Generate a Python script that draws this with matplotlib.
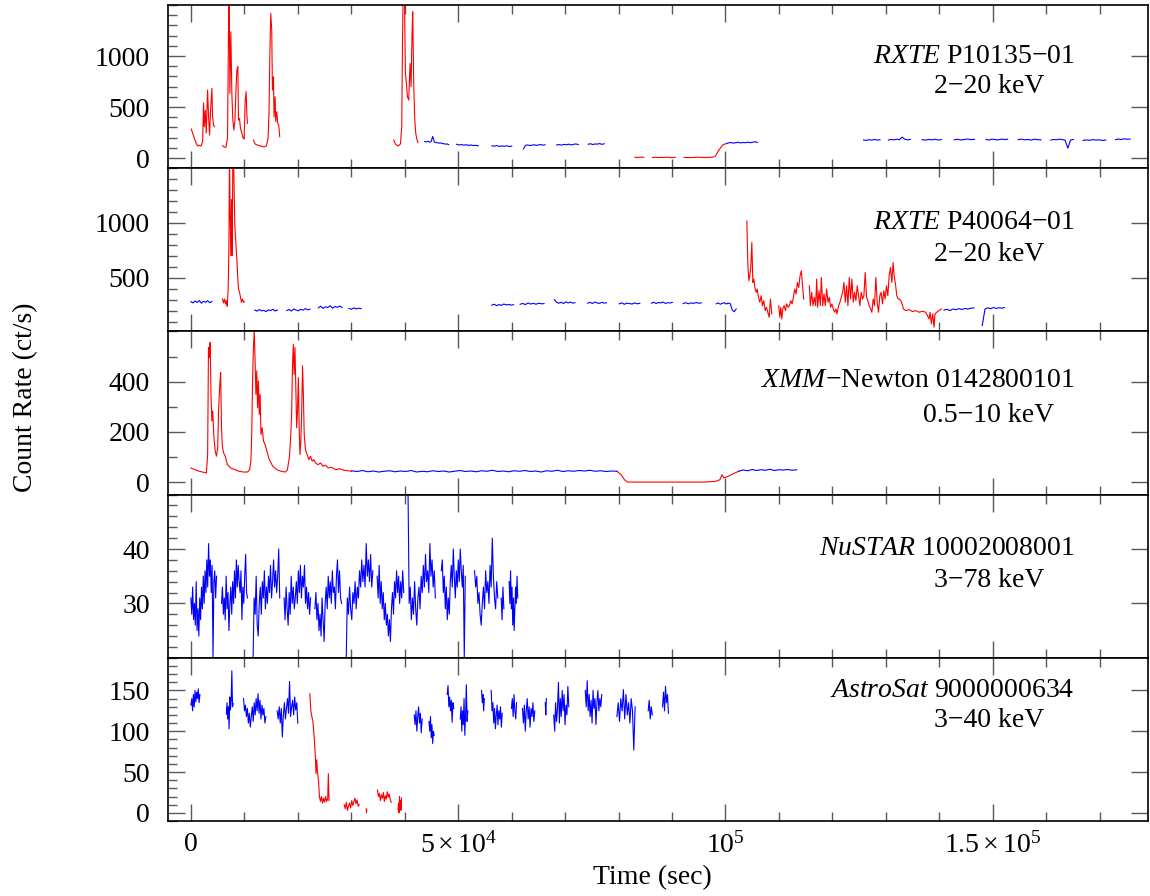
import numpy as np
import matplotlib
matplotlib.use('Agg')
import matplotlib.pyplot as plt
from matplotlib.ticker import MultipleLocator, FixedLocator, FixedFormatter

plt.rcParams['font.family'] = ['Liberation Serif', 'DejaVu Serif']
plt.rcParams['mathtext.fontset'] = 'custom'
plt.rcParams['mathtext.rm'] = 'Liberation Serif'
plt.rcParams['mathtext.it'] = 'Liberation Serif:italic'

# ---------------- panel 1 : RXTE P10135-01 ----------------
# flaring (red) parts, explicit times (s) and rates (ct/s)
p1_red_t = [
    [75, 320, 630, 945, 1256, 1567, 1879, 2190, 2376, 2500, 2687, 2874, 3122,
     3309, 3495, 3682, 3931, 4055, 4242, 4429],
    [5921, 6232, 6544, 6854, 7041, 7165, 7290, 7477, 7663, 7850, 8037, 8224,
     8410, 8597, 8784, 8907, 9094, 9280, 9529, 9778, 9964, 10151, 10338,
     10462, 10586],
    [11706, 12017, 12452, 13075, 13696, 14131, 14443, 14629, 14754, 14941,
     15127, 15251, 15438, 15562, 15749, 15873, 16060, 16247, 16434, 16620],
    [37954, 38266, 38763, 39199, 39447, 39572, 39696, 39945, 40132, 40319,
     40505, 40754, 41002, 41189, 41375, 41500, 41687, 41874, 42060, 42309,
     42498],
    [83080, 83600, 84200, 84720],
    [86360, 86900, 87400, 87900, 88500, 89000, 89500, 90100, 90610],
    [92250, 93500, 94800, 96000, 97200, 97810, 98130, 98790, 99460, 99910],
]
p1_red_v = [
    [284, 245, 196, 150, 118, 125, 118, 160, 539, 307, 470, 245, 666, 405,
     225, 470, 683, 405, 323, 307],
    [121, 108, 105, 193, 1271, 1600, 634, 1238, 634, 372, 274, 356, 634, 862,
     895, 372, 388, 291, 245, 196, 186, 552, 650, 438, 340],
    [176, 137, 127, 118, 108, 118, 196, 470, 960, 1418, 1254, 666, 797, 405,
     601, 356, 454, 340, 323, 209],
    [176, 137, 118, 137, 307, 1058, 1600, 1600, 830, 732, 601, 568, 928, 699,
     1222, 1434, 732, 389, 245, 176, 150],
    [8, 5, 10, 6],
    [5, 8, 4, 7, 5, 9, 6, 4, 7],
    [6, 4, 8, 5, 7, 10, 20, 78, 127, 137],
]
# quiescent (blue) parts: time spans and evenly binned rates
p1_blue_span = [(43740, 48220), (49710, 53750), (56300, 60030), (62210, 66260),
                (68430, 72480), (74340, 77330), (100100, 106000),
                (125840, 128920), (130500, 134600), (136800, 140400),
                (142800, 146600), (148750, 152800), (154760, 159040),
                (160870, 165120), (166900, 171150), (172980, 175720)]
p1_blue_v = [
    [162, 158, 165, 155, 160, 212, 158, 152, 150, 146, 148, 142, 140, 136, 138, 132],
    [135, 128, 132, 126, 130, 124, 128, 122, 125, 120],
    [120, 116, 122, 114, 118, 115, 120, 112, 117],
    [90, 125, 128, 122, 126, 130, 124, 128, 132, 126, 130],
    [128, 132, 126, 134, 130, 136, 128, 134, 138, 132],
    [135, 140, 132, 138, 136, 142, 134, 140],
    [140, 148, 152, 146, 150, 154, 148, 152, 150, 156, 150, 155, 160, 152],
    [178, 172, 180, 175, 182, 176, 179],
    [176, 182, 178, 185, 180, 205, 184, 178, 182],
    [180, 175, 182, 178, 184, 176, 181],
    [178, 184, 176, 182, 186, 180, 183],
    [182, 176, 185, 180, 178, 186, 181, 184],
    [180, 185, 178, 182, 176, 184, 180, 178],
    [176, 182, 178, 185, 180, 176, 98, 178, 182],
    [172, 178, 174, 180, 176, 178, 172, 176],
    [180, 186, 182, 188, 184, 186],
]

# ---------------- panel 2 : RXTE P40064-01 ----------------
p2_red_t = [
    [5921, 6107, 6294, 6481, 6667, 6792, 6979, 7104, 7227, 7352, 7477, 7601,
     7725, 7850, 7974, 8098, 8224, 8410, 8597, 8784, 8907, 9094, 9280, 9466,
     9652, 9839, 10026],
    [104010, 104197, 104384, 104570, 104757, 104943, 105130, 105317, 105503,
     105752, 105939, 106188, 106437, 106685, 106934, 107183, 107432, 107681,
     107929, 108178, 108427, 108676],
    [109983, 110168, 110355, 110542, 110729, 110978, 111227, 111475, 111724,
     111973, 112222, 112470, 112719, 112968, 113216, 113465, 113714, 113963,
     114211, 114398, 114647],
    [115704, 115891, 116140, 116389, 116637, 116886, 117073, 117259, 117508,
     117757, 117944, 118193, 118441, 118690, 118939, 119188, 119436, 119685,
     119934, 120183, 120431, 120680, 120867, 121178, 121427, 121676, 121924,
     122173, 122422, 122671, 122919, 123168, 123417, 123666, 123914, 124163,
     124412, 124661, 124909, 125158, 125407, 125656, 125905, 126153, 126402,
     126651, 126900, 127148, 127397, 127646, 127895, 128144, 128392, 128641,
     128890, 129139, 129387, 129636, 129885, 130134, 130382, 130631, 130880,
     131129, 131377, 131564, 131813, 132062, 132311, 132559, 132808, 133057,
     133306, 133742, 134364, 134986, 135608, 136230, 136852, 137474, 138096,
     138283, 138532, 138781, 139029, 139216, 139528, 139963, 140398],
]
p2_red_v = [
    [306, 270, 306, 261, 291, 239, 397, 761, 1600, 1064, 700, 1215, 700, 1600,
     1600, 1291, 973, 821, 670, 488, 397, 367, 321, 276, 306, 276, 282],
    [1018, 624, 473, 518, 609, 821, 457, 488, 412, 367, 397, 321, 276, 336,
     245, 291, 200, 230, 185, 139, 306, 170],
    [245, 139, 230, 124, 215, 245, 200, 261, 230, 245, 291, 261, 321, 397,
     351, 457, 412, 518, 564, 442, 306],
    [427, 245, 367, 245, 321, 245, 488, 230, 382, 245, 503, 245, 351, 245,
     397, 276, 321, 230, 261, 215, 185, 215, 170, 245, 276, 321, 367, 457,
     276, 427, 245, 503, 306, 488, 276, 367, 291, 427, 336, 245, 367, 306,
     336, 548, 321, 291, 245, 215, 185, 306, 245, 503, 276, 185, 336, 367,
     261, 382, 306, 427, 336, 518, 594, 457, 639, 518, 442, 336, 306, 306,
     291, 261, 215, 200, 209, 191, 200, 185, 194, 185, 124, 185, 79, 170, 48,
     170, 185, 200, 215],
]
p2_blue_span = [(0, 3930), (11955, 16184), (17927, 22280), (23834, 28313),
                (29557, 31858), (56301, 60347), (61590, 66069), (67997, 71854),
                (74216, 77762), (80126, 83983), (86160, 90077), (92068, 95489),
                (98288, 102020), (140896, 146493), (148048, 152215)]
p2_blue_v = [
    [282, 270, 288, 274, 292, 268, 285, 276, 290, 272, 284],
    [205, 195, 210, 198, 202, 190, 207, 200, 212, 196, 205],
    [200, 210, 196, 215, 205, 198, 212, 204, 218, 208, 212],
    [225, 240, 220, 235, 228, 245, 222, 238, 230, 242, 228],
    [220, 212, 225, 215, 222, 218],
    [250, 258, 245, 255, 248, 260, 252, 256, 250, 254],
    [258, 265, 255, 270, 260, 266, 258, 268, 262, 264],
    [300, 275, 268, 276, 265, 280, 270, 278, 268, 272],
    [268, 275, 265, 278, 270, 266, 276, 268, 272],
    [262, 270, 258, 268, 264, 260, 270, 262, 266],
    [268, 276, 265, 274, 270, 278, 266, 272, 270, 275],
    [265, 272, 262, 270, 266, 274, 268, 270],
    [262, 270, 258, 266, 272, 260, 268, 264, 205, 190, 215],
    [205, 212, 200, 215, 208, 218, 210, 220, 214, 222, 225],
    [64, 215, 225, 218, 228, 220, 226, 222, 228],
]

# ---------------- panel 3 : XMM-Newton 0142800101 ----------------
p3_red_t = [
    [0, 779, 1564, 2350, 2900, 3135, 3292, 3450, 3606, 3763, 3921, 4078, 4313,
     4549, 4784, 5020, 5177, 5412, 5570, 5727, 5884, 6120, 6434, 6826, 7455,
     8240, 9026, 9811, 10596, 10990, 11225, 11382, 11540, 11697, 11854, 12010,
     12167, 12324, 12481, 12638, 12795, 12952, 13110, 13345, 13581, 13895,
     14210, 14680, 15310, 16095, 16880, 17665, 18058, 18450, 18686, 18843,
     19000, 19158, 19315, 19472, 19630, 19786, 19943, 20100, 20257, 20414,
     20572, 20729, 20886, 21043, 21200, 21436, 21750, 22064, 22378, 22692,
     23006, 23320, 23791, 24262, 24733, 25204, 25676, 26310, 27090, 27875,
     28660, 29446, 30075],
    [79711, 80497, 81126, 81676, 84000, 88000, 92000, 96000, 98170, 98955,
     99350, 99740, 100530, 101310, 102490],
]
p3_red_v = [
    [56, 49, 43, 39, 36, 109, 536, 496, 556, 349, 243, 283, 176, 123, 103,
     136, 283, 389, 436, 216, 143, 116, 103, 69, 56, 49, 43, 40, 40, 49, 83,
     189, 403, 536, 603, 483, 349, 443, 296, 403, 269, 349, 189, 216, 163,
     149, 123, 89, 63, 49, 43, 40, 49, 103, 189, 269, 456, 549, 429, 536, 376,
     216, 283, 416, 216, 109, 163, 283, 463, 349, 189, 129, 109, 89, 103, 83,
     89, 76, 69, 76, 63, 67, 56, 59, 49, 53, 47, 45, 43],
    [43, 29, 9, 0, 0, 0, 0, 0, 3, 9, 29, 16, 23, 32, 43],
]
p3_blue_span = [(30075, 79711), (102490, 113330)]
p3_blue_v = [
    [45, 42, 46, 41, 44, 40, 43, 45, 41, 44, 42, 46, 40, 43, 41, 45, 42, 44,
     40, 43, 46, 42, 44, 41, 45, 43, 47, 42, 44, 41, 45, 43, 46, 42, 44, 40,
     45, 43, 47, 42, 45, 43, 46, 44, 47, 43, 45, 42, 44, 43],
    [43, 48, 45, 50, 46, 49, 47, 51, 46, 49, 48, 50, 47, 49],
]

# ---------------- panel 4 : NuSTAR 10002008001 ----------------
p4_blue_span = [(0, 4800), (5730, 10590), (11640, 16620), (17430, 22400),
                (23200, 28190), (29060, 34040), (34840, 39820), (40630, 45730),
                (46850, 51330), (53070, 57420), (58050, 58550), (59540, 61150)]
p4_blue_v = [
    [31, 28, 33, 27, 30, 26, 34, 25, 29, 24, 31, 27, 33, 29, 35, 30, 36, 32,
     38, 33, 41, 35, 38, 32, 37, 20, 34, 36, 31, 35],
    [30, 33, 28, 31, 27, 35, 29, 32, 25, 30, 33, 28, 34, 30, 36, 31, 38, 33,
     37, 34, 32, 36, 27, 33, 30, 35, 39, 32, 31],
    [20, 31, 28, 35, 26, 24, 30, 33, 28, 34, 31, 36, 29, 33, 30, 35, 32, 37,
     31, 34, 38, 33, 36, 32, 35, 40, 31],
    [31, 27, 33, 29, 26, 32, 28, 35, 30, 33, 29, 31, 34, 30, 36, 32, 37, 31,
     35, 33, 37, 30, 33, 29, 32, 28, 31],
    [29, 32, 27, 30, 25, 28, 24, 31, 27, 23, 30, 33, 29, 35, 31, 34, 30, 36,
     32, 33, 29, 35, 38, 32, 36, 31, 30],
    [20, 31, 28, 33, 29, 27, 32, 30, 34, 29, 33, 31, 36, 33, 38, 34, 37, 33,
     41, 35, 38, 34, 39, 33, 36],
    [35, 31, 37, 30, 34, 29, 32, 27, 30, 26, 28, 24, 27, 23, 29, 32, 28, 34,
     31, 36, 32, 35, 30, 34, 31, 36, 32],
    [50, 30, 33, 27, 31, 28, 34, 29, 26, 31, 33, 29, 35, 32, 37, 33, 39, 34,
     36, 32, 41, 35, 38, 33, 36, 31],
    [36, 38, 32, 35, 29, 33, 27, 31, 28, 34, 37, 33, 40, 35, 31, 36, 33, 38,
     34, 40, 36, 33, 37, 20, 35],
    [36, 33, 35, 30, 32, 28, 26, 30, 33, 29, 36, 32, 34, 30, 37, 33, 42, 35,
     31, 29, 34, 31],
    [31, 27, 33, 29],
    [34, 30, 36, 29, 33, 26, 31, 25, 29, 33, 30, 35, 31],
]

# ---------------- panel 5 : AstroSat 9000000634 ----------------
p5_red_t = [
    [22249, 22442, 22634, 22827, 23020, 23148, 23277, 23405, 23534, 23662,
     23791, 23919, 24048, 24241, 24434, 24626, 24819, 25012, 25205, 25398,
     25590, 25719, 25847],
]
p5_red_v = [
    [146, 125, 118, 112, 97, 85, 70, 48, 65, 52, 44, 35, 20, 14, 20, 12, 18,
     13, 20, 14, 17, 48, 15],
]
p5_red_span = [(28680, 31500), (32800, 32900), (34900, 37480), (38760, 39400)]
p5_red_sv = [
    [10, 5, 13, 3, 8, 12, 6, 15, 9, 14, 18, 11, 16, 8, 10],
    [5, 0, 4],
    [28, 20, 24, 15, 22, 18, 25, 14, 21, 17, 26, 19, 23, 16, 13],
    [4, 12, 0, 20, 8, 15, 3, 18],
]
p5_blue_span = [(15, 1686), (6634, 7919), (9847, 14025), (16144, 20000),
                (41780, 43260), (44550, 45510), (47950, 49180), (50400, 51810),
                (54380, 54900), (56180, 58240), (59970, 60930), (62030, 64340),
                (66300, 66500), (67880, 70700), (73780, 76870), (79700, 83100),
                (85550, 86320), (88240, 89340)]
p5_blue_v = [
    [132, 140, 125, 145, 130, 150, 136, 148, 140, 152, 135, 145],
    [121, 135, 115, 130, 103, 142, 126, 138, 174, 130, 134],
    [140, 125, 132, 118, 128, 110, 122, 105, 118, 130, 112, 135, 120, 140,
     125, 146, 122, 138, 115, 132, 120, 128, 110, 118],
    [125, 115, 130, 110, 128, 93, 120, 135, 115, 128, 140, 122, 161, 118, 130,
     138, 120, 142, 126, 135, 110],
    [120, 108, 125, 100, 118, 130, 110, 122, 98, 115],
    [112, 100, 118, 92, 108, 85, 100, 95],
    [145, 156, 130, 142, 125, 138, 111, 135, 128],
    [115, 130, 100, 125, 108, 140, 95, 120, 157, 112, 125],
    [150, 135, 145, 125, 140],
    [150, 125, 135, 110, 128, 103, 120, 132, 108, 125, 115, 130, 105, 122],
    [128, 140, 118, 145, 125, 115, 135],
    [128, 110, 132, 100, 125, 140, 115, 130, 105, 128, 118, 135, 112, 125],
    [135, 120, 140],
    [120, 100, 135, 112, 128, 160, 110, 140, 118, 150, 125, 145, 108, 132,
     120, 155, 130],
    [150, 130, 162, 125, 145, 118, 138, 110, 150, 128, 140, 108, 135, 150,
     125, 140, 130, 145],
    [118, 135, 112, 140, 125, 151, 115, 145, 120, 135, 110, 140, 125, 77, 130],
    [125, 138, 115, 130, 120],
    [130, 148, 125, 155, 135, 145, 122],
]

labels_1 = [r'$\mathit{RXTE}$ P10135$-$01', r'$\mathit{RXTE}$ P40064$-$01',
            r'$\mathit{XMM}$$-$Newton 0142800101', r'$\mathit{NuSTAR}$ 10002008001',
            r'$\mathit{AstroSat}$ 9000000634']
labels_2 = ['2\u221220 keV', '2\u221220 keV', '0.5\u221210 keV', '3\u221278 keV',
            '3\u221240 keV']
label_y = [(0.687, 0.503), (0.669, 0.472), (0.700, 0.485), (0.670, 0.472),
           (0.800, 0.616)]

ylims = [(-100, 1500), (10, 1500), (-50, 600), (20, 50), (-10, 190)]
yticks = [[0, 500, 1000], [500, 1000], [0, 200, 400], [30, 40],
          [0, 50, 100, 150]]
yminor = [100, 100, 100, 2, 10]


def spans_to_lines(spans, vals):
    out = []
    for (t0, t1), v in zip(spans, vals):
        out.append((np.linspace(t0, t1, len(v)), np.array(v)))
    return out


red_sets = [
    list(zip(p1_red_t, p1_red_v)),
    list(zip(p2_red_t, p2_red_v)),
    list(zip(p3_red_t, p3_red_v)),
    [],
    list(zip(p5_red_t, p5_red_v)) + spans_to_lines(p5_red_span, p5_red_sv),
]
blue_sets = [
    spans_to_lines(p1_blue_span, p1_blue_v),
    spans_to_lines(p2_blue_span, p2_blue_v),
    spans_to_lines(p3_blue_span, p3_blue_v),
    spans_to_lines(p4_blue_span, p4_blue_v),
    spans_to_lines(p5_blue_span, p5_blue_v),
]

fig, axes = plt.subplots(5, 1, sharex=True, figsize=(11.5, 8.96), dpi=100)
fig.subplots_adjust(left=0.146, right=0.998, top=0.9944, bottom=0.0837,
                    hspace=0)

for i, ax in enumerate(axes):
    for t, v in red_sets[i]:
        ax.plot(t, v, color='red', lw=0.8)
    for t, v in blue_sets[i]:
        ax.plot(t, v, color='blue', lw=0.8)
    ax.set_ylim(*ylims[i])
    ax.yaxis.set_major_locator(FixedLocator(yticks[i]))
    ax.yaxis.set_minor_locator(MultipleLocator(yminor[i]))
    ax.xaxis.set_major_locator(FixedLocator([0, 5e4, 1e5, 1.5e5]))
    ax.xaxis.set_minor_locator(MultipleLocator(1e4))
    ax.tick_params(which='both', direction='in', top=True, right=True,
                   color='0.35', width=1, labelsize=20)
    ax.tick_params(which='major', length=12, pad=13)
    ax.tick_params(which='minor', length=6.5, right=False)
    for s in ax.spines.values():
        s.set_linewidth(1.2)
    ax.text(0.9255, label_y[i][0], labels_1[i], transform=ax.transAxes,
            ha='right', va='center', fontsize=20)
    ax.text(0.838, label_y[i][1], labels_2[i], transform=ax.transAxes,
            ha='center', va='center', fontsize=20)

axes[-1].set_xlim(-4300, 179000)
axes[-1].xaxis.set_major_formatter(FixedFormatter(
    ['0', r'$5\times10^4$', r'$10^5$', r'$1.5\times10^5$']))
axes[-1].tick_params(axis='x', which='major', pad=8)

fig.text(0.567, 0.021, 'Time (sec)', ha='center', va='center', fontsize=20)
fig.text(0.022, 0.557, 'Count Rate (ct/s)', ha='center', va='center',
         rotation=90, fontsize=20)

fig.savefig('out.png', dpi=100)
